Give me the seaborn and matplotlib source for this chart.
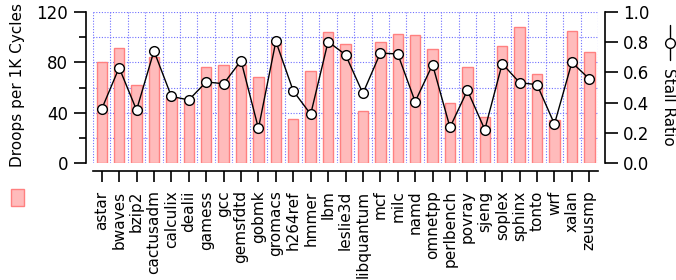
import numpy as np
import pandas as pd
import matplotlib
matplotlib.use("Agg")
import matplotlib.pyplot as plt
import seaborn as sns
from matplotlib.lines import Line2D
from matplotlib.patches import Rectangle

benchmarks = ["astar", "bwaves", "bzip2", "cactusadm", "calculix", "dealii", "gamess", "gcc",
              "gemsfdtd", "gobmk", "gromacs", "h264ref", "hmmer", "lbm", "leslie3d", "libquantum",
              "mcf", "milc", "namd", "omnetpp", "perlbench", "povray", "sjeng", "soplex", "sphinx",
              "tonto", "wrf", "xalan", "zeusmp"]
droops = [80.5, 91.8, 62, 84, 52, 51, 76.6, 78.3, 78.3, 68.4, 95.3, 34.9, 72.9, 104, 94.5, 41,
          96.6, 102.4, 101.6, 91, 47.6, 76, 36.7, 92.9, 108.3, 70.5, 33.8, 105.4, 88]
stall = [0.357, 0.632, 0.35, 0.743, 0.441, 0.417, 0.537, 0.525, 0.678, 0.228, 0.807, 0.477, 0.322,
         0.805, 0.718, 0.461, 0.729, 0.723, 0.406, 0.652, 0.235, 0.481, 0.22, 0.659, 0.532, 0.519,
         0.257, 0.667, 0.557]
left_ticks = [0, 40, 80, 120]
right_ticks = [0.0, 0.2, 0.4, 0.6, 0.8, 1.0]

df = pd.DataFrame({"bench": benchmarks, "droops": droops, "stall": stall})
df["pos"] = np.arange(len(df))

sns.set_style("white")
plt.rcParams["font.family"] = ["DejaVu Sans"]
plt.rcParams.update({"font.size": 11, "text.color": "black", "axes.labelcolor": "black",
                     "xtick.color": "black", "ytick.color": "black"})

fig = plt.figure(figsize=(6.76, 2.8), dpi=100)
ax = fig.add_axes([0.1376, 0.419, 0.7470, 0.537])

sns.barplot(data=df, x="bench", y="droops", ax=ax, color="#ffbbbb", width=0.6,
            edgecolor="#ff8080", linewidth=1.0, saturation=1, zorder=2)
ax.set_xlim(-0.5, len(df) - 0.5)
ax.set_ylim(0, 120)
ax.set_yticks(left_ticks)
ax.set_yticks([20, 60, 100], minor=True)
ax.set_xlabel("")
ax.set_ylabel("")

grid_kw = dict(color="#6f6fff", lw=0.8, ls=(0, (1, 1.5)), zorder=1)
for xb in np.arange(-0.5, len(df), 1.0):
    ax.axvline(xb, **grid_kw)
for yg in range(20, 121, 20):
    ax.axhline(yg, **grid_kw)

for s in ["top", "right"]:
    ax.spines[s].set_visible(False)
ax.spines["left"].set_position(("outward", 5))
ax.spines["bottom"].set_position(("outward", 6))
for s in ["left", "bottom"]:
    ax.spines[s].set_color("black")
    ax.spines[s].set_linewidth(1.2)
ax.tick_params(axis="y", which="major", direction="out", length=9, width=1.2, left=True,
               pad=4, labelsize=12)
ax.tick_params(axis="y", which="minor", direction="out", length=5, width=1.2, left=True)
ax.tick_params(axis="x", direction="out", length=8, width=1.2, bottom=True, pad=6,
               labelsize=11)
ax.set_xticks(range(len(df)))
ax.set_xticklabels(benchmarks, rotation=90)

ax2 = ax.twinx()
sns.lineplot(data=df, x="pos", y="stall", ax=ax2, color="black", lw=1.0, marker="o",
             markersize=7, markerfacecolor="white", markeredgecolor="black",
             markeredgewidth=1.0, zorder=5)
ax2.set_ylim(0, 1.0)
ax2.set_yticks(right_ticks)
ax2.set_yticklabels([f"{t:.1f}" for t in right_ticks])
ax2.set_xlim(-0.5, len(df) - 0.5)
ax2.set_xlabel("")
ax2.set_ylabel("")
for s in ["top", "left", "bottom"]:
    ax2.spines[s].set_visible(False)
ax2.spines["right"].set_position(("outward", 5))
ax2.spines["right"].set_linewidth(1.2)
ax2.spines["right"].set_color("black")
ax2.tick_params(axis="y", direction="out", length=9, width=1.2, right=True, pad=4,
                labelsize=12)

# legend-like labels
fig.text(18 / 676, 1 - 85 / 280, "Droops per 1K Cycles", rotation=90, ha="center",
         va="center", fontsize=11)
fig.patches.append(Rectangle((11 / 676, 1 - 206 / 280), 13 / 676, 17 / 280,
                             transform=fig.transFigure, facecolor="#ffbbbb",
                             edgecolor="#ff8080", lw=1.0))
fig.text(668 / 676, 1 - 68 / 280, "Stall Ratio", rotation=-90, ha="center", va="top",
         fontsize=11)
fig.lines.append(Line2D([670 / 676, 670 / 676], [1 - 25 / 280, 1 - 60 / 280],
                        transform=fig.transFigure, color="black", lw=1.0))
fig.lines.append(Line2D([670 / 676], [1 - 43 / 280], transform=fig.transFigure,
                        color="black", lw=0, marker="o", markersize=7,
                        markerfacecolor="white", markeredgecolor="black"))

fig.savefig("out.png", dpi=100)
